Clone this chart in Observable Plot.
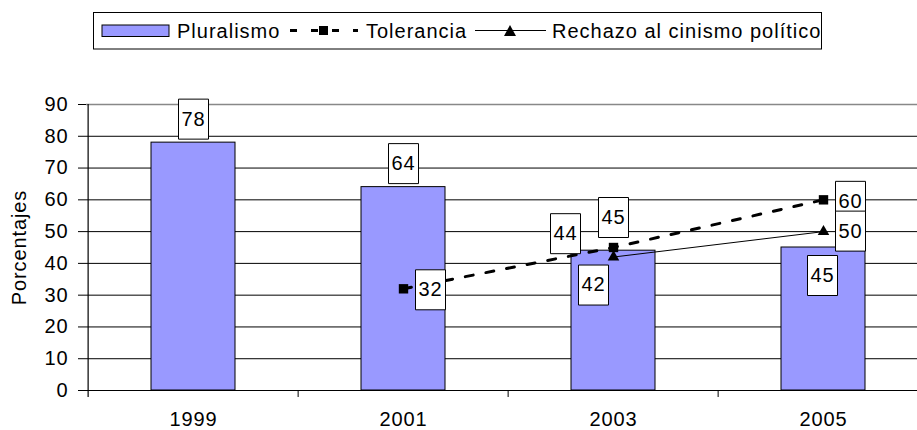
<!DOCTYPE html>
<html>
<head>
<meta charset="utf-8">
<script src="https://cdn.jsdelivr.net/npm/d3@7"></script>
<script src="https://cdn.jsdelivr.net/npm/@observablehq/plot@0.6"></script>
<style>
  body { margin: 0; background: #fff; overflow: hidden; }
  #wrap { position: relative; width: 917px; height: 430px; font-family: "Liberation Sans", Arial, sans-serif; }
  #legend { position: absolute; left: 0; top: 0; }
  #chart { position: absolute; left: 0; top: 60px; }
</style>
</head>
<body>
<div id="wrap">
  <svg id="legend" width="917" height="60"></svg>
  <div id="chart"></div>
</div>
<script>
// ---- data ----
const years = ["1999", "2001", "2003", "2005"];
const pluralismo = [78, 64, 44, 45];
const toleranciaYears = ["2001", "2003", "2005"];
const tolerancia = [32, 45, 60];
const rechazoYears = ["2003", "2005"];
const rechazo = [42, 50];
const yTicks = [0, 10, 20, 30, 40, 50, 60, 70, 80, 90];
const seriesNames = ["Pluralismo", "Tolerancia", "Rechazo al cinismo político"];
const yLabel = "Porcentajes";

// ---- tables ----
const barData = years.map((y, i) => ({year: y, value: pluralismo[i], series: seriesNames[0]}));
const tolData = toleranciaYears.map((y, i) => ({year: y, value: tolerancia[i], series: seriesNames[1]}));
const recData = rechazoYears.map((y, i) => ({year: y, value: rechazo[i], series: seriesNames[2]}));

// label placement (pixel offsets from the anchor point)
const placement = {
  "Pluralismo|1999": [0, -23.5],
  "Pluralismo|2001": [0, -23.5],
  "Pluralismo|2003": [-48, -17],
  "Pluralismo|2005": [-1, 28],
  "Tolerancia|2001": [27, 1],
  "Tolerancia|2003": [0, -30],
  "Tolerancia|2005": [27, 1.5],
  "Rechazo al cinismo político|2003": [-20, 28],
  "Rechazo al cinismo político|2005": [27, -0.5]
};

const FONT = "Liberation Sans, Arial, sans-serif";
const FS = 20;
const x0 = 86, x1 = 929;
const step = (x1 - x0) / 4;

const boxSymbol = {
  draw(ctx) {
    ctx.moveTo(-15, -20); ctx.lineTo(15, -20); ctx.lineTo(15, 20); ctx.lineTo(-15, 20); ctx.closePath();
  }
};

const labelMarks = [];
for (const d of [...barData, ...tolData, ...recData]) {
  const [dx, dy] = placement[d.series + "|" + d.year];
  labelMarks.push(Plot.dot([d], {x: "year", y: "value", symbol: boxSymbol, fill: "white", stroke: "black", strokeWidth: 1, dx, dy}));
  labelMarks.push(Plot.text([d], {x: "year", y: "value", text: d => String(d.value), dx, dy, fontSize: FS, fill: "black", lineAnchor: "middle"}));
}

const chart = Plot.plot({
  width: 917,
  height: 370,
  marginLeft: 86,
  marginRight: 0,
  marginTop: 44,
  marginBottom: 40,
  style: {fontFamily: FONT, fontSize: FS + "px", letterSpacing: "0.9px", color: "black", background: "white"},
  x: {type: "band", domain: years, range: [x0, x1], paddingInner: 0.6, paddingOuter: 0.3, label: null},
  y: {domain: [0, 90], range: [330, 44], label: null},
  marks: [
    Plot.ruleY(yTicks.filter(t => t > 0 && t < 90), {stroke: "black", strokeWidth: 1}),
    Plot.ruleY([90], {stroke: "#888", strokeWidth: 1.5}),
    Plot.barY(barData, {x: "year", y: "value", fill: "#9999FF", stroke: "black", strokeWidth: 1}),
    Plot.ruleY([0], {stroke: "black", strokeWidth: 1.2}),
    Plot.ruleX(["1999"], {x: d => d, dx: -step / 2, y1: 90, y2: 0, insetBottom: -7, stroke: "black", strokeWidth: 1.2}),
    Plot.ruleX(years.slice(1), {x: d => d, dx: -step / 2, y1: 0, y2: 0, insetBottom: -7, stroke: "black", strokeWidth: 1}),
    Plot.axisY({ticks: yTicks, tickSize: 8, tickPadding: 10, label: null, fontSize: FS, stroke: "black", fill: "black"}),
    Plot.axisX({tickSize: 0, tickPadding: 21, label: null, fontSize: FS, fill: "black"}),
    Plot.text([yLabel], {text: d => d, frameAnchor: "left", textAnchor: "middle", lineAnchor: "middle", dx: -67, rotate: -90, fontSize: FS, fill: "black"}),
    Plot.line(tolData, {x: "year", y: "value", stroke: "black", strokeWidth: 3, strokeDasharray: "8,13"}),
    Plot.line(recData, {x: "year", y: "value", stroke: "black", strokeWidth: 1}),
    Plot.dot(tolData, {x: "year", y: "value", symbol: "square", r: 5.3, fill: "black"}),
    Plot.dot(recData, {x: "year", y: "value", symbol: "triangle", r: 4.3, fill: "black"}),
    ...labelMarks
  ]
});
document.getElementById("chart").appendChild(chart);

// ---- legend ----
const lg = d3.select("#legend");
lg.append("rect").attr("x", 93.5).attr("y", 12.5).attr("width", 728).attr("height", 36.5)
  .attr("fill", "white").attr("stroke", "black").attr("stroke-width", 1);
lg.append("rect").attr("x", 102).attr("y", 25).attr("width", 67).attr("height", 11.5)
  .attr("fill", "#9999FF").attr("stroke", "black").attr("stroke-width", 1);
lg.append("line").attr("x1", 290).attr("x2", 358).attr("y1", 30.5).attr("y2", 30.5)
  .attr("stroke", "black").attr("stroke-width", 3).attr("stroke-dasharray", "7,14");
lg.append("rect").attr("x", 319).attr("y", 26).attr("width", 9).attr("height", 9).attr("fill", "black");
lg.append("line").attr("x1", 475).attr("x2", 546).attr("y1", 30.5).attr("y2", 30.5)
  .attr("stroke", "black").attr("stroke-width", 1);
lg.append("path").attr("d", "M510,25L516,36L504,36Z").attr("fill", "black");
const lgx = [177, 366, 552];
seriesNames.forEach((s, i) => {
  lg.append("text").attr("x", lgx[i]).attr("y", 37.7).text(s)
    .attr("font-family", FONT).attr("font-size", FS).attr("letter-spacing", "1px").attr("fill", "black");
});
</script>
</body>
</html>
